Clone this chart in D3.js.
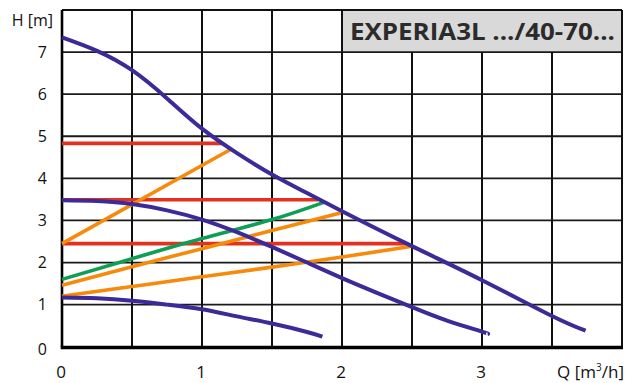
<!DOCTYPE html>
<html><head><meta charset="utf-8">
<script src="https://cdn.jsdelivr.net/npm/d3@7"></script>
<style>body{margin:0;background:#fff}svg{display:block}text{font-family:"Open Sans",sans-serif;fill:#111}</style>
</head><body>
<svg id="c" width="626" height="383"></svg>
<script>
// ---- data (Q in m3/h, H in m) ----
const xTicks = [0, 1, 2, 3];
const yTicks = [0, 1, 2, 3, 4, 5, 6, 7];
const title = "EXPERIA3L .../40-70...";
const xLabel = ["Q [m", "3", "/h]"];
const yLabel = "H [m]";
const pumpMax = [[0,7.35],[0.25,7.03],[0.5,6.57],[0.75,5.9],[1,5.18],[1.25,4.6],[1.5,4.09],[1.75,3.65],[2,3.22],[2.5,2.39],[3,1.58],[3.5,0.73],[3.74,0.38]];
const pumpMid = [[0,3.48],[0.25,3.46],[0.5,3.39],[0.75,3.24],[1,3.02],[1.25,2.72],[1.5,2.37],[1.75,2.0],[2,1.63],[2.25,1.28],[2.5,0.94],[2.75,0.62],[3,0.36],[3.04,0.3]];
const pumpMin = [[0,1.17],[0.25,1.15],[0.5,1.09],[0.75,1.0],[1,0.89],[1.25,0.72],[1.5,0.55],[1.75,0.35],[1.86,0.24]];
const constHead = [[[0,4.83],[1.15,4.83]],[[0,3.49],[1.83,3.49]],[[0,2.45],[2.46,2.45]]];
const propPress = [
  [[0,2.45],[1.2,4.68]],
  [[0,1.46],[0.5,1.9],[1,2.33],[1.5,2.76],[1.99,3.18]],
  [[0,1.2],[0.5,1.43],[1,1.66],[1.5,1.89],[2,2.13],[2.49,2.38]]
];
const autoAdapt = [[0,1.6],[0.5,2.09],[1,2.57],[1.5,3.02],[1.87,3.43]];

// ---- drawing ----
const svg = d3.select("#c");
const x = d3.scaleLinear().domain([0,4]).range([62,622]);
const y = d3.scaleLinear().domain([0,8]).range([346.7,10]);

const g = svg.append("g");
// title box
g.append("rect").attr("x", x(2)).attr("y", y(8)).attr("width", x(4)-x(2)).attr("height", y(7)-y(8))
  .attr("fill", "#d9d9d9");
// horizontal grid
[1,2,3,4,5,6,7].forEach(v => {
  g.append("line").attr("x1", x(0)).attr("x2", x(4)).attr("y1", y(v)).attr("y2", y(v))
   .attr("stroke", "#1a1a1a").attr("stroke-width", 1.8);
});
// vertical grid
d3.range(0.5, 4, 0.5).forEach(v => {
  g.append("line").attr("x1", x(v)).attr("x2", x(v)).attr("y1", v > 2 ? y(7) : y(8)).attr("y2", y(0))
   .attr("stroke", "#111").attr("stroke-width", 2);
});
// frame
g.append("line").attr("x1", x(0)).attr("x2", x(4)).attr("y1", y(8)).attr("y2", y(8)).attr("stroke","#111").attr("stroke-width",2);
g.append("line").attr("x1", x(4)).attr("x2", x(4)).attr("y1", y(8)).attr("y2", y(0)).attr("stroke","#111").attr("stroke-width",2);
g.append("line").attr("x1", x(2)).attr("x2", x(2)).attr("y1", y(8)).attr("y2", y(7)).attr("stroke","#111").attr("stroke-width",2);
g.append("line").attr("x1", x(0)).attr("x2", x(0)).attr("y1", y(8)).attr("y2", y(0)).attr("stroke","#000").attr("stroke-width",2.6);
g.append("line").attr("x1", x(0)-1.3).attr("x2", x(4)+1).attr("y1", y(0)+0.8).attr("y2", y(0)+0.8).attr("stroke","#000").attr("stroke-width",3.4);

g.append("text").attr("x", 350).attr("y", y(7.5)).attr("dy","0.36em")
  .attr("font-size", 24).attr("font-weight", "bold").style("fill","#2b2b2b")
  .attr("textLength", 265).attr("lengthAdjust","spacingAndGlyphs").text(title);

const line = d3.line().x(d => x(d[0])).y(d => y(d[1])).curve(d3.curveNatural);
const draw = (data, color, w) => g.append("path").attr("d", line(data)).attr("fill","none")
  .attr("stroke", color).attr("stroke-width", w);

constHead.forEach(d => draw(d, "#e2311f", 3.6));
propPress.forEach(d => draw(d, "#f78a0a", 3.6));
draw(autoAdapt, "#0f9e55", 3.6);
[pumpMax, pumpMid, pumpMin].forEach(d => draw(d, "#3d2a98", 4));

// axes tick labels
yTicks.forEach(v => g.append("text").attr("x", 47).attr("y", y(v) + (v===0?3:0)).attr("dy","0.36em")
  .attr("text-anchor","end").attr("font-size",16).text(v));
xTicks.forEach(v => g.append("text").attr("x", x(v)-1).attr("y", 372).attr("dy","0.36em")
  .attr("text-anchor","middle").attr("font-size",17).text(v));
g.append("text").attr("x", 53).attr("y", 20).attr("dy","0.36em").attr("text-anchor","end")
  .attr("font-size",16).text(yLabel);
const xl = g.append("text").attr("x", 624).attr("y", 378).attr("text-anchor","end")
  .attr("font-size",17);
xl.append("tspan").text(xLabel[0]);
xl.append("tspan").attr("font-size",10).attr("dy",-7).text(xLabel[1]);
xl.append("tspan").attr("dy",7).text(xLabel[2]);
</script>
</body></html>
